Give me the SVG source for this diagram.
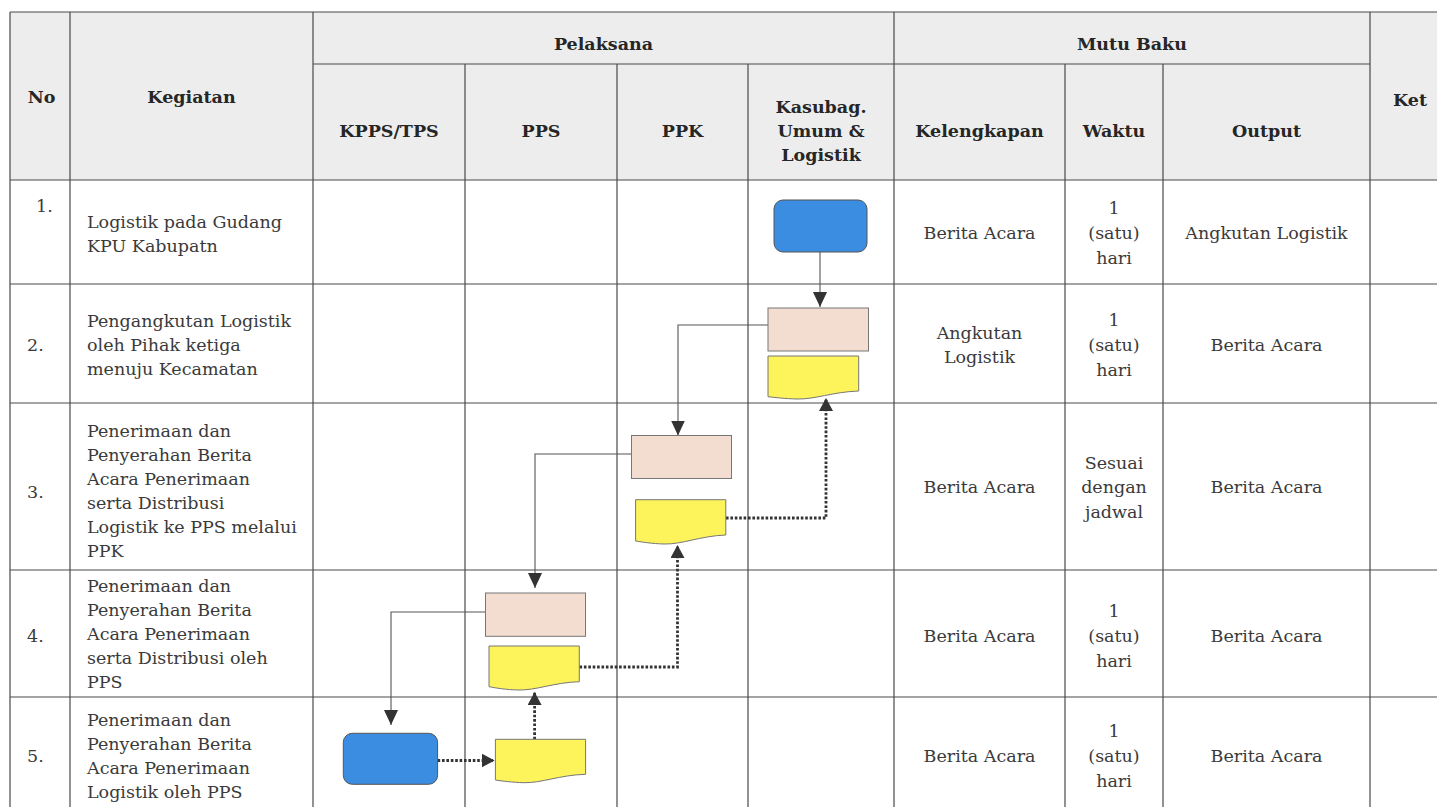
<svg xmlns="http://www.w3.org/2000/svg" width="1437" height="807" viewBox="0 0 1437 807">
<style>
.grid{stroke:#4a4a4a;stroke-width:1.2;fill:none}
.h{font-family:"DejaVu Serif",serif;font-weight:bold;font-size:17.5px;fill:#262626;text-anchor:middle}
.t{font-family:"DejaVu Serif",serif;font-size:17.5px;fill:#3a3a3a}
.c{text-anchor:middle}
.term{fill:#3a8de0;stroke:#555;stroke-width:1}
.proc{fill:#f3ddd0;stroke:#777;stroke-width:1}
.doc{fill:#fdf35a;stroke:#777;stroke-width:1}
.solid{stroke:#555;stroke-width:1.1;fill:none}
.dot{stroke:#333;stroke-width:2.8;stroke-dasharray:2.6 1.8;fill:none}
</style>
<defs>
<marker id="ah" markerUnits="userSpaceOnUse" markerWidth="16" markerHeight="16" refX="15" refY="7" orient="auto">
<path d="M0,0 L15,7 L0,14 Z" fill="#333"/>
</marker>
<marker id="ahd" markerUnits="userSpaceOnUse" markerWidth="16" markerHeight="16" refX="13" refY="7" orient="auto">
<path d="M0,0 L13,7 L0,14 Z" fill="#333"/>
</marker>
</defs>
<rect x="0" y="0" width="1437" height="807" fill="#ffffff"/>
<rect x="10" y="12" width="1427" height="168" fill="#ededed"/>

<g id="table">
<path class="grid" d="M10,12 H1437 M313,64 H1370 M10,180 H1437 M10,284 H1437 M10,403 H1437 M10,570 H1437 M10,697 H1437"/>
<path class="grid" d="M10,12 V807 M70,12 V807 M313,12 V807 M465,64 V807 M617,64 V807 M748,64 V807 M894,12 V807 M1065,64 V807 M1163,64 V807 M1370,12 V807"/>
</g>

<g id="header">
<text class="h" x="41.5" y="103">No</text>
<text class="h" x="191.5" y="103">Kegiatan</text>
<text class="h" x="603.5" y="50">Pelaksana</text>
<text class="h" x="1132" y="50">Mutu Baku</text>
<text class="h" x="389" y="137">KPPS/TPS</text>
<text class="h" x="541" y="137">PPS</text>
<text class="h" x="682.5" y="137">PPK</text>
<text class="h" x="821" y="112.5">Kasubag.</text>
<text class="h" x="821" y="136.5">Umum &amp;</text>
<text class="h" x="821" y="161">Logistik</text>
<text class="h" x="979.5" y="137">Kelengkapan</text>
<text class="h" x="1114" y="137">Waktu</text>
<text class="h" x="1266.5" y="137">Output</text>
<text class="h" x="1410" y="106">Ket</text>
</g>

<g id="row1-text">
<text class="t" x="36" y="212">1.</text>
<text class="t" x="87" y="228">Logistik pada Gudang</text>
<text class="t" x="87" y="252">KPU Kabupatn</text>
<text class="t c" x="979.5" y="239">Berita Acara</text>
<text class="t c" x="1114" y="214">1</text>
<text class="t c" x="1114" y="239">(satu)</text>
<text class="t c" x="1114" y="264">hari</text>
<text class="t c" x="1266.5" y="239">Angkutan Logistik</text>
</g>

<g id="row2-text">
<text class="t" x="27" y="351">2.</text>
<text class="t" x="87" y="327">Pengangkutan Logistik</text>
<text class="t" x="87" y="351">oleh Pihak ketiga</text>
<text class="t" x="87" y="375">menuju Kecamatan</text>
<text class="t c" x="979.5" y="339">Angkutan</text>
<text class="t c" x="979.5" y="363">Logistik</text>
<text class="t c" x="1114" y="326">1</text>
<text class="t c" x="1114" y="351">(satu)</text>
<text class="t c" x="1114" y="376">hari</text>
<text class="t c" x="1266.5" y="351">Berita Acara</text>
</g>

<g id="row3-text">
<text class="t" x="27" y="498">3.</text>
<text class="t" x="87" y="437">Penerimaan dan</text>
<text class="t" x="87" y="461">Penyerahan Berita</text>
<text class="t" x="87" y="485">Acara Penerimaan</text>
<text class="t" x="87" y="509">serta Distribusi</text>
<text class="t" x="87" y="533">Logistik ke PPS melalui</text>
<text class="t" x="87" y="557">PPK</text>
<text class="t c" x="979.5" y="493">Berita Acara</text>
<text class="t c" x="1114" y="469">Sesuai</text>
<text class="t c" x="1114" y="493">dengan</text>
<text class="t c" x="1114" y="518">jadwal</text>
<text class="t c" x="1266.5" y="493">Berita Acara</text>
</g>

<g id="row4-text">
<text class="t" x="27" y="642">4.</text>
<text class="t" x="87" y="592">Penerimaan dan</text>
<text class="t" x="87" y="616">Penyerahan Berita</text>
<text class="t" x="87" y="640">Acara Penerimaan</text>
<text class="t" x="87" y="664">serta Distribusi oleh</text>
<text class="t" x="87" y="688">PPS</text>
<text class="t c" x="979.5" y="642">Berita Acara</text>
<text class="t c" x="1114" y="617">1</text>
<text class="t c" x="1114" y="642">(satu)</text>
<text class="t c" x="1114" y="667">hari</text>
<text class="t c" x="1266.5" y="642">Berita Acara</text>
</g>

<g id="row5-text">
<text class="t" x="27" y="762">5.</text>
<text class="t" x="87" y="726">Penerimaan dan</text>
<text class="t" x="87" y="750">Penyerahan Berita</text>
<text class="t" x="87" y="774">Acara Penerimaan</text>
<text class="t" x="87" y="798">Logistik oleh PPS</text>
<text class="t c" x="979.5" y="762">Berita Acara</text>
<text class="t c" x="1114" y="737">1</text>
<text class="t c" x="1114" y="762">(satu)</text>
<text class="t c" x="1114" y="787">hari</text>
<text class="t c" x="1266.5" y="762">Berita Acara</text>
</g>

<g id="connectors">
<path class="solid" d="M820,252 V307" marker-end="url(#ah)"/>
<path class="solid" d="M768,325 H678 V435.5" marker-end="url(#ah)"/>
<path class="solid" d="M631.5,454 H535 V588" marker-end="url(#ah)"/>
<path class="solid" d="M485.5,612 H391 V725" marker-end="url(#ah)"/>
<path class="dot" d="M726,518 H826 V398" marker-end="url(#ahd)"/>
<path class="dot" d="M579.5,667 H677.5 V545" marker-end="url(#ahd)"/>
<path class="dot" d="M437.6,760.5 H494.6" marker-end="url(#ahd)"/>
<path class="dot" d="M534.6,739.3 V692" marker-end="url(#ahd)"/>
</g>

<g id="start-gudang"><rect class="term" x="774" y="200" width="93" height="52" rx="9"/></g>
<g id="proc-kasubag"><rect class="proc" x="768" y="308" width="100.5" height="43"/></g>
<g id="doc-kasubag"><path class="doc" d="M768,356 H858.7 V391 C832,392 815,399.5 797,399 C785,398.7 775,397.5 768,396.7 Z"/></g>
<g id="proc-ppk"><rect class="proc" x="631.5" y="435.5" width="100" height="43"/></g>
<g id="doc-ppk"><path class="doc" d="M635.6,499.7 H725.8 V535 C700,536 682,544.5 664,544 C652,543.7 642,542 635.6,541 Z"/></g>
<g id="proc-pps"><rect class="proc" x="485.5" y="593" width="100" height="43.3"/></g>
<g id="doc-pps"><path class="doc" d="M489,646 H579.3 V681.7 C554,682.5 536,690.5 518,690 C506,689.7 496,688 489,686.7 Z"/></g>
<g id="end-kpps"><rect class="term" x="343.3" y="733.3" width="94.3" height="51" rx="9"/></g>
<g id="doc-kpps"><path class="doc" d="M495.4,739.3 H585.6 V774.3 C560,775 542,783 524,782.7 C512,782.4 502,781 495.4,780 Z"/></g>
</svg>
